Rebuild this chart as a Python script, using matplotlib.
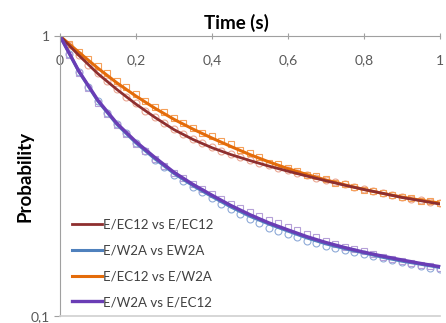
import numpy as np
import matplotlib
matplotlib.use("Agg")
import matplotlib.pyplot as plt
from matplotlib.ticker import FixedLocator, NullLocator

plt.rcParams['font.family'] = ['Lato', 'DejaVu Sans']

# fitted curves, sampled every 0.05 s
t_fit = [0.0, 0.05, 0.1, 0.15, 0.2, 0.25, 0.3, 0.35, 0.4, 0.45, 0.5,
         0.55, 0.6, 0.65, 0.7, 0.75, 0.8, 0.85, 0.9, 0.95, 1.0]
fit_ec12_ec12 = [1.0, 0.852, 0.733, 0.644, 0.571, 0.512, 0.463, 0.427, 0.399, 0.377, 0.359,
                 0.343, 0.329, 0.316, 0.304, 0.293, 0.283, 0.274, 0.265, 0.258, 0.251]
fit_w2a_w2a = [1.0, 0.745, 0.585, 0.483, 0.415, 0.364, 0.323, 0.292, 0.267, 0.245, 0.227,
               0.213, 0.201, 0.190, 0.181, 0.174, 0.168, 0.162, 0.157, 0.153, 0.149]
fit_ec12_w2a = [1.0, 0.874, 0.767, 0.680, 0.610, 0.552, 0.504, 0.465, 0.432, 0.403, 0.377,
                0.355, 0.336, 0.320, 0.306, 0.294, 0.283, 0.274, 0.266, 0.259, 0.253]
fit_w2a_ec12 = [1.0, 0.748, 0.589, 0.487, 0.419, 0.368, 0.326, 0.295, 0.270, 0.248, 0.230,
                0.215, 0.203, 0.192, 0.183, 0.1755, 0.169, 0.1635, 0.1585, 0.154, 0.150]

# measured points, every 0.025 s
t_data = [0.025 * k for k in range(1, 41)]
data_ec12_ec12 = [0.925, 0.855, 0.79, 0.735, 0.69, 0.645, 0.605, 0.575, 0.54, 0.515,
                  0.49, 0.465, 0.447, 0.43, 0.415, 0.40, 0.388, 0.379, 0.37, 0.361,
                  0.353, 0.345, 0.338, 0.331, 0.324, 0.318, 0.312, 0.306, 0.30, 0.295,
                  0.289, 0.285, 0.28, 0.276, 0.271, 0.267, 0.262, 0.259, 0.256, 0.253]
data_w2a_w2a = [0.86, 0.742, 0.66, 0.585, 0.532, 0.484, 0.449, 0.415, 0.39, 0.362,
                0.34, 0.32, 0.304, 0.29, 0.277, 0.264, 0.252, 0.241, 0.231, 0.222,
                0.215, 0.207, 0.201, 0.196, 0.191, 0.186, 0.182, 0.178, 0.175, 0.172,
                0.169, 0.166, 0.164, 0.161, 0.158, 0.156, 0.153, 0.151, 0.149, 0.147]
data_ec12_w2a = [0.94, 0.88, 0.83, 0.78, 0.735, 0.69, 0.655, 0.62, 0.585, 0.56,
                 0.535, 0.51, 0.49, 0.47, 0.452, 0.44, 0.42, 0.41, 0.392, 0.382,
                 0.37, 0.352, 0.35, 0.338, 0.33, 0.318, 0.315, 0.308, 0.298, 0.296,
                 0.29, 0.283, 0.279, 0.274, 0.271, 0.265, 0.263, 0.258, 0.257, 0.254]
data_w2a_ec12 = [0.855, 0.735, 0.65, 0.578, 0.525, 0.48, 0.445, 0.413, 0.388, 0.364,
                 0.343, 0.325, 0.31, 0.297, 0.284, 0.272, 0.262, 0.252, 0.244, 0.236,
                 0.228, 0.221, 0.214, 0.208, 0.202, 0.197, 0.192, 0.186, 0.181, 0.177,
                 0.173, 0.17, 0.166, 0.163, 0.16, 0.157, 0.155, 0.152, 0.151, 0.149]

fig = plt.figure(figsize=(4.46, 3.23), dpi=100)
ax = fig.add_axes([0.1345, 0.0217, 0.852, 0.8668])

# markers first
ax.plot(t_data, data_ec12_ec12, 'o', ms=5, mfc='none', mec='#EBA894', mew=0.8)
ax.plot(t_data, data_w2a_w2a, 'o', ms=5, mfc='none', mec='#8EAAD8', mew=0.8)
ax.plot(t_data, data_ec12_w2a, 's', ms=5, mfc='none', mec='#F5A05A', mew=0.8)
ax.plot(t_data, data_w2a_ec12, 's', ms=5, mfc='none', mec='#B5A0D8', mew=0.8)

ax.plot(t_fit, fit_ec12_w2a, color='#E46C0A', lw=2.2, label='_o')
ax.plot(t_fit, fit_ec12_ec12, color='#8E2F2F', lw=2.0, label='E/EC12 vs E/EC12')
ax.plot(t_fit, fit_w2a_w2a, color='#4F81BD', lw=2.2, label='E/W2A vs EW2A')
ax.plot([], [], color='#E46C0A', lw=2.2, label='E/EC12 vs E/W2A')
ax.plot(t_fit, fit_w2a_ec12, color='#6A3DB5', lw=2.4, label='E/W2A vs E/EC12')

ax.set_yscale('log')
ax.set_ylim(0.1, 1)
ax.set_xlim(0, 1)
ax.yaxis.set_major_locator(FixedLocator([0.1, 1]))
ax.yaxis.set_minor_locator(NullLocator())
ax.set_yticklabels(['0,1', '1'])
ax.set_xticks([0, 0.2, 0.4, 0.6, 0.8, 1.0])
ax.set_xticklabels(['0', '0,2', '0,4', '0,6', '0,8', '1'])

ax.tick_params(axis='x', top=True, labeltop=True, bottom=False, labelbottom=False,
               direction='inout', length=4, pad=-24, color='#A0A0A0',
               labelcolor='#595959', labelsize=10)
ax.tick_params(axis='y', direction='out', length=4, color='#A0A0A0',
               labelcolor='#595959', labelsize=10)

ax.spines['right'].set_visible(False)
ax.spines['top'].set_color('#A0A0A0')
ax.spines['left'].set_color('#A0A0A0')
ax.spines['bottom'].set_color('#D0D0D0')
ax.spines['bottom'].set_linewidth(1.2)

fig.text(0.531, 0.93, 'Time (s)', ha='center', va='center', fontsize=13.5, fontweight='bold')
ax.set_ylabel('Probability', fontsize=13.5, fontweight='bold')
ax.yaxis.set_label_coords(-0.07, 0.5)

leg = ax.legend(loc='lower left', bbox_to_anchor=(0.01, 0.0), frameon=False,
                fontsize=9.5, handlelength=2.3, handletextpad=0.1, labelspacing=1.05,
                borderaxespad=0.2)
for txt in leg.get_texts():
    txt.set_color('#404040')

fig.savefig('out.png', dpi=100)
